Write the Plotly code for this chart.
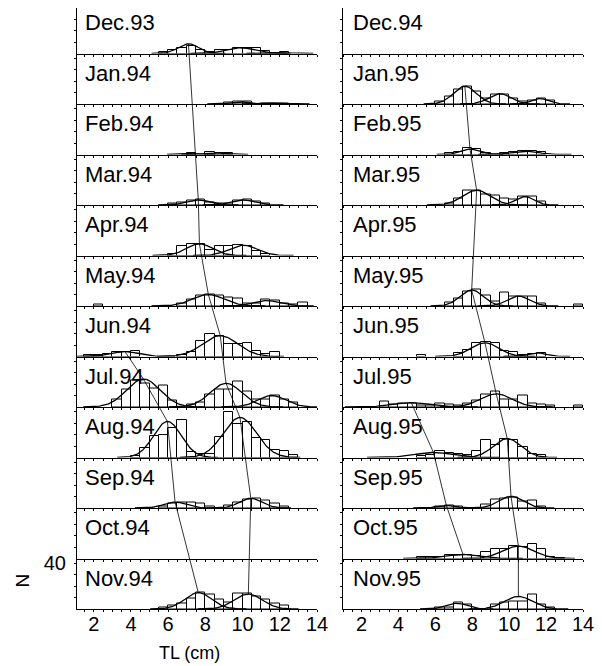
import numpy as np
import plotly.graph_objects as go

# page body has an 8 px margin: the figure is sized so it fills the window exactly
OFF = 8
W, H = 602 - OFF, 666 - OFF
PANEL_TOP = 3.0
PANEL_H = 50.5
YMAX = 44.2
BIN = 0.5
FONT = "Liberation Sans, Arial, Helvetica, sans-serif"

# ---------------- data ----------------
left_months = ["Dec.93", "Jan.94", "Feb.94", "Mar.94", "Apr.94", "May.94",
               "Jun.94", "Jul.94", "Aug.94", "Sep.94", "Oct.94", "Nov.94"]
right_months = ["Dec.94", "Jan.95", "Feb.95", "Mar.95", "Apr.95", "May.95",
                "Jun.95", "Jul.95", "Aug.95", "Sep.95", "Oct.95", "Nov.95"]

# histogram: left edge of first 0.5-cm class, then counts per class
left_bar_start = [5.5, 9.0, 7.0, 6.0, 6.0, 2.0, 1.5, 3.0, 4.0, 5.5, None, 5.5]
left_bar_counts = [
    [1.5, 3, 4.4, 7, 3.5, 1, 3, 3.5, 5, 5, 5, 2, 0.5, 1],
    [1, 2, 2, 0, 0.6, 0.6, 0.6],
    [1, 0, 2, 1, 1],
    [1.5, 2.3, 3.8, 4.4, 2.3, 1, 1.5, 3.8, 4.4, 3, 1],
    [1.7, 8, 10, 10.5, 5, 8, 8, 9, 8, 3.8, 1.7],
    [1, 0, 0, 0, 0, 0, 0, 0, 0, 2.6, 6, 9, 10, 9, 7.6, 7, 2.6, 2.6, 5.5, 4.7, 2.6, 1.7, 3.2],
    [1.3, 1.3, 2, 3.6, 4.2, 4.8, 0, 0, 0, 0, 1, 4.2, 13.5, 19.7, 18, 10.6, 10.6, 12, 5, 2, 4.2],
    [7, 15, 23, 21, 16, 19, 6, 0, 2, 4, 11, 15, 15, 22.7, 13.4, 6.7, 6.7, 10, 6.7, 4],
    [1.5, 8, 19, 20, 26, 33, 5, 3, 3, 18, 40, 29, 31.5, 17, 15, 7, 5.5, 2],
    [1.7, 3.8, 5.2, 4.4, 4, 1.7, 0, 2.3, 4.4, 7.6, 8.5, 6.7, 3.8, 1.5],
    [],
    [1, 3.2, 4.4, 9.3, 14.3, 13, 8, 5.5, 13.7, 13.7, 10.8, 7.9, 4.4, 3.5],
]
right_bar_start = [None, 6.0, 6.5, 6.5, None, 6.5, 5.0, 3.0, 5.0, 6.0, 5.0, 6.0]
right_bar_counts = [
    [],
    [2.3, 6.7, 12.5, 15.5, 11, 5.2, 8.2, 8.7, 5.2, 2.3, 3.2, 4.4, 3],
    [1.2, 2, 5.8, 4.4, 1, 0, 1.2, 2, 3, 3, 2],
    [1.2, 5.5, 12.8, 12.8, 9.3, 7.9, 5.8, 4.4, 7.3, 7.3, 2.9],
    [],
    [2.9, 6.7, 12.5, 14.6, 9.6, 3.8, 11.7, 8.2, 8.2, 8.7, 2.3, 0, 0, 0, 0.9],
    [0.9, 0, 0, 0, 2.9, 5.8, 12, 12.5, 12, 4.7, 3.8, 1.7, 2.3, 3.2],
    [4.4, 2, 3, 3, 1.5, 1, 3.5, 2.3, 1.5, 3, 6, 11, 14, 7, 7, 10, 3.5, 2, 1, 0, 0, 0.9],
    [1, 2.5, 5.5, 4, 3.5, 2.5, 5.8, 15, 11, 16.5, 15.5, 9, 3, 2],
    [1.5, 2, 0.9, 0, 0, 2.9, 7.3, 8.7, 9.6, 5.8, 6.4, 1.5],
    [1.7, 1.2, 1.7, 3.5, 2.9, 3.5, 2, 5.8, 8.7, 7.9, 10.8, 9.9, 12.8, 7.9, 1.2, 0.6],
    [0.9, 1.5, 5.8, 3.8, 0, 0, 3.8, 5.8, 6.4, 6.4, 13, 3.8, 1.5],
]

# fitted normal components: (mean TL, sd, peak N)
left_curves = [
    [(7.09, 0.55, 8.5), (9.9, 0.75, 5.0), (12.0, 0.5, 0.8)],
    [(9.9, 0.5, 1.8), (11.8, 0.5, 0.8)],
    [(7.2, 0.35, 0.8), (8.5, 0.5, 1.3)],
    [(7.62, 0.6, 4.4), (10.04, 0.6, 4.4)],
    [(7.68, 0.7, 10.2), (10.04, 0.75, 9.0)],
    [(8.16, 0.85, 10.0), (11.3, 0.7, 4.7)],
    [(3.68, 0.75, 4.2), (8.8, 0.95, 18.2)],
    [(4.67, 0.9, 24.5), (9.11, 0.85, 20.7), (11.57, 0.75, 10.0)],
    [(5.96, 0.75, 31.5), (9.86, 0.9, 35.0)],
    [(6.37, 0.6, 5.2), (10.44, 0.6, 8.5)],
    [],
    [(7.62, 0.72, 14.3), (10.31, 0.75, 13.1)],
]
right_curves = [
    [],
    [(7.6, 0.62, 15.5), (9.5, 0.6, 9.0), (11.67, 0.45, 4.7)],
    [(7.88, 0.5, 4.7), (10.85, 0.7, 2.9)],
    [(8.24, 0.75, 12.8), (10.86, 0.5, 7.3)],
    [],
    [(7.97, 0.62, 14.0), (10.5, 0.6, 8.7)],
    [(8.69, 0.75, 12.0), (11.5, 0.5, 3.2)],
    [(4.7, 1.0, 3.8), (9.3, 0.85, 11.5)],
    [(5.9, 1.0, 4.4), (9.9, 0.75, 16.5)],
    [(6.6, 0.5, 2.2), (10.1, 0.65, 10.2)],
    [(7.5, 0.9, 3.5), (10.5, 0.85, 10.8)],
    [(7.15, 0.55, 5.0), (10.5, 0.75, 11.0)],
]

# cohort progressions: (panel index, component index)
left_tracks = [
    [(0, 0), (3, 0), (4, 0), (5, 0), (6, 1), (7, 1), (8, 1), (9, 1), (11, 1)],
    [(6, 0), (7, 0), (8, 0), (9, 0), (11, 0)],
]
right_tracks = [
    [(1, 0), (2, 0), (3, 0), (5, 0), (6, 0), (7, 1), (8, 1), (9, 1), (10, 1), (11, 1)],
    [(7, 0), (8, 0), (9, 0), (10, 0)],
]

x_tick_vals = [2, 4, 6, 8, 10, 12, 14]
y_tick_label = 40

# screen-pixel positions (window coordinates) converted to figure coords below
columns = [
    dict(months=left_months, start=left_bar_start, counts=left_bar_counts,
         curves=left_curves, tracks=left_tracks, px=(77, 317), rng=(1.1, 14.0),
         label_x=82.5),
    dict(months=right_months, start=right_bar_start, counts=right_bar_counts,
         curves=right_curves, tracks=right_tracks, px=(343, 583), rng=(1.0, 14.0),
         label_x=350.5),
]


def px_x(x):
    return (x - OFF) / W


def px_y(y):
    return min(1.0, max(0.0, 1 - (y - OFF) / H))


fig = go.Figure()
layout = dict(width=W, height=H, margin=dict(l=0, r=0, t=0, b=0, pad=0, autoexpand=False),
              paper_bgcolor="white", plot_bgcolor="rgba(0,0,0,0)",
              showlegend=False, font=dict(family=FONT, color="black"),
              bargap=0)
annotations = []

# part of the top panel hidden by the page margin (in count units)
cut = max(0.0, OFF - PANEL_TOP) / PANEL_H * YMAX


def ydom(i):
    top = PANEL_TOP + PANEL_H * i
    bot = top + PANEL_H
    return [px_y(bot), px_y(top)]


minor_vals = [v / 2 for v in range(2, 29)]

for c, col in enumerate(columns):
    xd = [px_x(col["px"][0]), px_x(col["px"][1])]
    for i in range(12):
        n = c * 12 + i + 1
        xa = "x" if n == 1 else f"x{n}"
        ya = "y" if n == 1 else f"y{n}"
        bottom = (i == 11)
        ytop = YMAX - cut if i == 0 else YMAX
        ticktext = [(str(int(v)) if (bottom and v in x_tick_vals) else "") for v in minor_vals]
        layout["xaxis" if n == 1 else f"xaxis{n}"] = dict(
            domain=xd, range=list(col["rng"]), anchor=ya, showline=True,
            linecolor="black", linewidth=1, showgrid=False, zeroline=False,
            ticks="outside", ticklen=2, tickwidth=1, tickcolor="black",
            tickvals=minor_vals, ticktext=ticktext, showticklabels=bottom,
            ticklabelstandoff=-5,
            tickfont=dict(size=20, family=FONT), fixedrange=True, automargin=False)
        yt = [10, 20, 30, 40]
        ytext = [("" if v != y_tick_label else str(v)) if (c == 0 and bottom) else "" for v in yt]
        layout["yaxis" if n == 1 else f"yaxis{n}"] = dict(
            domain=ydom(i), range=[0, ytop], anchor=xa, showline=True,
            linecolor="black", linewidth=1, showgrid=False, zeroline=False,
            ticks="outside", ticklen=2, tickwidth=1, tickcolor="black",
            tickvals=yt, ticktext=ytext, showticklabels=(c == 0 and bottom),
            ticklabelstandoff=4,
            tickfont=dict(size=20, family=FONT), fixedrange=True, automargin=False)

        # invisible anchor trace so that every panel draws its axes
        fig.add_trace(go.Scatter(x=[col["rng"][0]], y=[0], mode="markers", xaxis=xa, yaxis=ya,
                                 marker=dict(size=1, color="rgba(0,0,0,0)"), hoverinfo="skip"))

        st = col["start"][i]
        cnts = col["counts"][i]
        if st is not None and cnts:
            xs = [st + BIN * k + BIN / 2 for k, v in enumerate(cnts) if v > 0]
            ys = [v for v in cnts if v > 0]
            fig.add_trace(go.Bar(
                x=xs, y=ys, width=BIN, xaxis=xa, yaxis=ya,
                marker=dict(color="rgba(0,0,0,0)", line=dict(color="black", width=1)),
                hoverinfo="skip"))
        for (m, s, h) in col["curves"][i]:
            gx = np.linspace(max(col["rng"][0], m - 3.6 * s), min(14.0, m + 3.6 * s), 120)
            gy = h * np.exp(-0.5 * ((gx - m) / s) ** 2)
            fig.add_trace(go.Scatter(x=gx, y=gy, mode="lines", xaxis=xa, yaxis=ya,
                                     line=dict(color="black", width=1.3),
                                     hoverinfo="skip"))
        top_px = PANEL_TOP + PANEL_H * i
        annotations.append(dict(
            text=col["months"][i], x=px_x(col["label_x"]), y=px_y(top_px + 19.5),
            xref="paper", yref="paper", xanchor="left", yanchor="middle",
            showarrow=False, font=dict(size=22, family=FONT, color="black")))

    # overlay axis for cohort lines spanning the whole column
    n = 25 + c
    layout[f"xaxis{n}"] = dict(domain=xd, range=list(col["rng"]), anchor=f"y{n}",
                               visible=False, fixedrange=True, automargin=False)
    layout[f"yaxis{n}"] = dict(domain=[px_y(PANEL_TOP + 12 * PANEL_H), px_y(PANEL_TOP)],
                               range=[0, 12 * YMAX - cut], anchor=f"x{n}", visible=False,
                               fixedrange=True, automargin=False)
    for tr in col["tracks"]:
        tx, ty = [], []
        for (pi, ci) in tr:
            m, s, h = col["curves"][pi][ci]
            tx.append(m)
            ty.append((11 - pi) * YMAX + h)
        fig.add_trace(go.Scatter(x=tx, y=ty, mode="lines", xaxis=f"x{n}", yaxis=f"y{n}",
                                 line=dict(color="black", width=0.8), hoverinfo="skip"))

annotations.append(dict(text="N", x=px_x(21.5), y=px_y(581), xref="paper", yref="paper",
                        textangle=-90, showarrow=False, xanchor="center", yanchor="middle",
                        font=dict(size=19, family=FONT, color="black")))
annotations.append(dict(text="TL (cm)", x=px_x(189), y=px_y(653), xref="paper", yref="paper",
                        showarrow=False, xanchor="center", yanchor="middle",
                        font=dict(size=18, family=FONT, color="black")))
layout["annotations"] = annotations
fig.update_layout(**layout)
fig.write_html("out.html")
